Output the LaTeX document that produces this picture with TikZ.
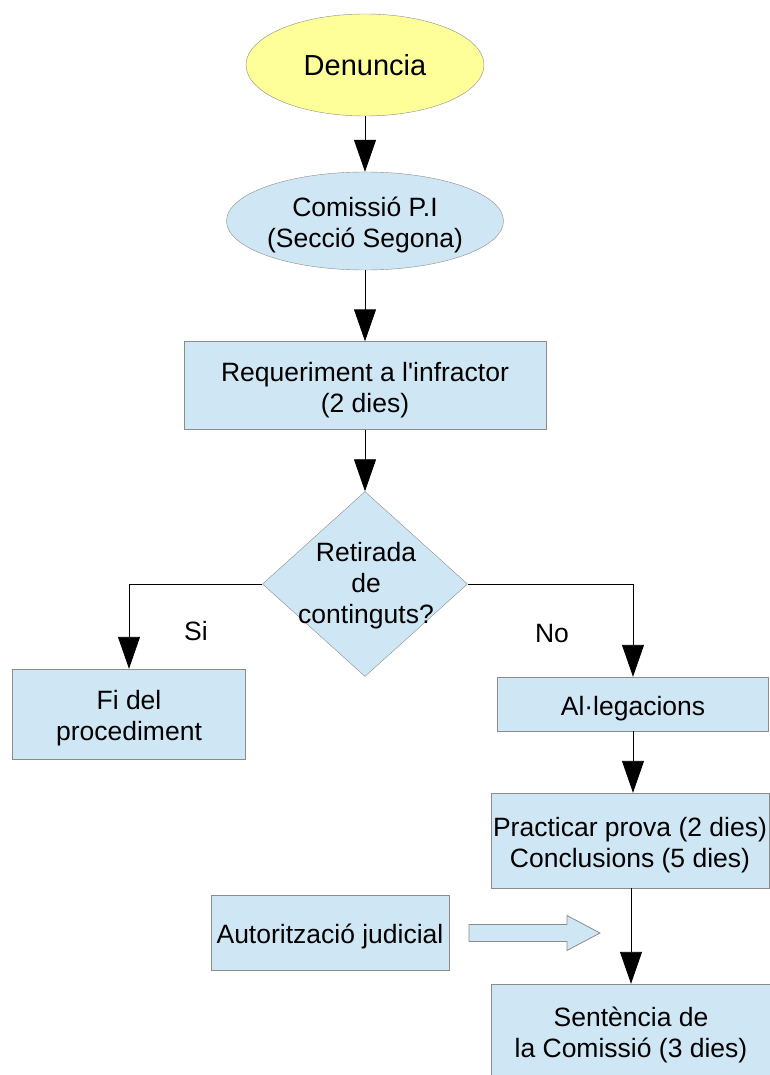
\documentclass[tikz,border=0pt]{standalone}
\usepackage{fontspec}
\newfontfamily\chartfont{Liberation Sans}
\usetikzlibrary{shapes.geometric,arrows.meta}

\definecolor{boxblue}{HTML}{CFE7F5}
\definecolor{paleyellow}{HTML}{FFFF99}
\definecolor{rimgray}{HTML}{8C8C8C}

\newcommand{\hstrut}{\rule{0pt}{30pt}}
\newcommand{\dstrut}{\rule[-8pt]{0pt}{8pt}}

\begin{document}
\begin{tikzpicture}[x=1pt, y=-1pt,
  plain/.style={draw=rimgray, fill=boxblue, inner sep=0pt, align=center,
    font=\chartfont\fontsize{26.5}{31}\selectfont},
  box/.style={plain, execute at begin node={\hstrut},
    execute at end node={\dstrut}},
  oval/.style={box, ellipse},
  decision/.style={draw=rimgray, fill=boxblue, diamond, inner sep=0pt},
  label/.style={font=\chartfont\fontsize{26.5}{31}\selectfont, align=center},
  flow/.style={->, >={Triangle[width=22pt,length=32pt]}, line width=0.9pt},
  hollow/.style={draw=rimgray, fill=boxblue, line width=0.8pt}]
\useasboundingbox (0,0) rectangle (770,1075);

% main column
\node [plain, ellipse, fill=paleyellow, minimum width=238pt, minimum height=102pt,
  font=\chartfont\fontsize{29}{33}\selectfont] (den) at (365,65) {Denuncia};
\node [oval, minimum width=240pt, minimum height=98pt] (com) at (365,221) {\hstrut Comissió P.I\\(Secció Segona)\dstrut};
\node [box, minimum width=362pt, minimum height=88pt] (req) at (365,385.5) {\hstrut Requeriment a l'infractor\\(2 dies)\dstrut};
\node [decision, minimum width=205pt, minimum height=185pt] (ret) at (365,584) {};
\node [label] (retT) at (366,586) {Retirada\\de\\continguts?};

% branches
\node [box, minimum width=233pt, minimum height=90pt] (fi) at (129,714) {\hstrut Fi del\\procediment\dstrut};
\node [box, minimum width=271pt, minimum height=54pt] (alg) at (633,704) {Al·legacions};
\node [box, minimum width=278pt, minimum height=95pt] (pra) at (630,840.5) {\hstrut Practicar prova (2 dies)\\Conclusions (5 dies)\dstrut};
\node [box, minimum width=238pt, minimum height=75pt] (auth) at (330,932.5) {Autorització judicial};
\node [box, minimum width=280pt, minimum height=94pt] (sen) at (631,1031) {\hstrut Sentència de\\la Comissió (3 dies)\dstrut};

\node [label] (si) at (196,631) {Si};
\node [label] (no) at (552,634) {No};

\draw [flow] (den) -- (com);
\draw [flow] (com) -- (req);
\draw [flow] (req) -- (ret);
\draw [flow] (ret.west) -| (fi.north);
\draw [flow] (ret.east) -| (alg.north);
\draw [flow] (alg.south) -- (alg.south |- pra.north);
\draw [flow] (sen.north |- pra.south) -- (sen.north);

% block arrow
\coordinate (tail) at (469,933);
\draw [hollow] (tail) ++(0,-8.5) -- ++(98,0) -- ++(0,-9) -- ++(33,17.5) -- ++(-33,17.5) -- ++(0,-9) -- ++(-98,0) -- cycle;
\end{tikzpicture}
\end{document}
